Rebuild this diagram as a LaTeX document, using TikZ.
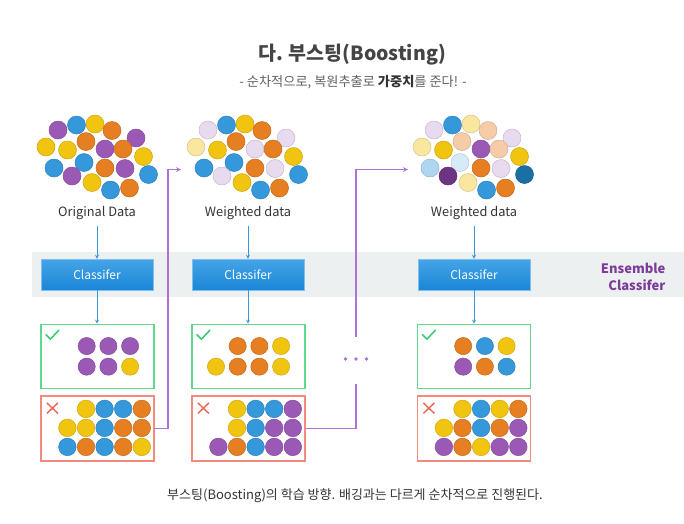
\documentclass[tikz,border=0pt]{standalone}
\usepackage{fontspec}
\setmainfont{Noto Sans CJK KR}
\usepackage{tikz}

\definecolor{cblue}{HTML}{3498DB}
\definecolor{cyellow}{HTML}{F1C40F}
\definecolor{corange}{HTML}{E67E22}
\definecolor{cpurple}{HTML}{9B59B6}
\definecolor{clav}{HTML}{E8DAEF}
\definecolor{clyel}{HTML}{F9E79F}
\definecolor{cpeach}{HTML}{F6CBA8}
\definecolor{clblue}{HTML}{AED6F1}
\definecolor{cvlblue}{HTML}{D6EAF8}
\definecolor{cdblue}{HTML}{1A6FA3}
\definecolor{cdpurple}{HTML}{6C3483}
\definecolor{cband}{HTML}{EDF0F1}
\definecolor{cgreen}{HTML}{5ED88A}
\definecolor{cred}{HTML}{F28B7C}
\definecolor{ccheck}{HTML}{3CCB78}
\definecolor{ccross}{HTML}{EC6A5A}
\definecolor{clink}{HTML}{AE72D6}
\definecolor{cens}{HTML}{7D3C98}
\definecolor{ctext}{HTML}{333333}
\definecolor{ctitle}{HTML}{444444}
\definecolor{cclftop}{HTML}{45A4E8}
\definecolor{cclfbot}{HTML}{1A86D6}

\begin{document}
\begin{tikzpicture}[x=1pt,y=-1pt,
  bead/.style={fill=#1,draw=#1!85!black,line width=0.5pt},
  clf/.style={draw=cclftop!70!white, top color=cclftop, bottom color=cclfbot,
    minimum width=112pt, minimum height=31pt, inner sep=0pt,
    text=white, font=\fontsize{12}{14}\selectfont},
  okbox/.style={draw=cgreen, line width=1.2pt, minimum width=113pt, minimum height=64.5pt, inner sep=0pt},
  badbox/.style={draw=cred, line width=1.2pt, minimum width=113pt, minimum height=65pt, inner sep=0pt},
  datalabel/.style={text=ctext, inner sep=0pt, font=\fontsize{12.8}{15}\selectfont},
  flow/.style={draw=cblue, line width=0.8pt, ->, >=stealth},
  back/.style={draw=clink, line width=1.2pt, >=stealth}]
\useasboundingbox (0,0) rectangle (684,523);

% title
\node[text=ctitle, font=\fontsize{19.5}{22}\selectfont\bfseries] (title) at (352,55) {다. 부스팅(Boosting)};
\node[text=ctitle!85!white, font=\fontsize{13.2}{15}\selectfont] (subtitle) at (353,82)
  {- 순차적으로, 복원추출로 \textbf{\color{ctext}가중치}를 준다! -};

% classifier band
\fill[cband] (32,252) rectangle (684,297);
\node[text=cens, align=right, anchor=east, font=\fontsize{13}{17}\selectfont\bfseries] (ens) at (669,276.5) {Ensemble\\Classifer};

% data clouds
\foreach \x/\y/\c in {58/130/cpurple, 76.5/125/cblue, 95/124/cyellow, 112/130.5/corange, 136/138/cpurple,
    46/147/cyellow, 67.5/150/cyellow, 86/141.5/corange, 105/149/cpurple, 123/149/corange, 143.5/156.5/cyellow,
    54/168/cblue, 84/162.5/cblue, 105/168/corange, 125/168.5/cpurple, 148.5/174.5/cblue,
    72/176/cpurple, 92/182.5/cyellow, 110.5/190/cblue, 129.5/188/corange}
  \fill[bead=\c] (\x,\y) circle (9);

\begin{scope}[shift={(150,0)}]
\foreach \x/\y/\c in {58/130/clav, 76.5/125/cblue, 95/124/cyellow, 112/130.5/corange, 136/138/clav,
    46/147/clyel, 67.5/150/cyellow, 86/141.5/corange, 105/149/clav, 123/149/corange, 143.5/156.5/cyellow,
    54/168/cblue, 84/162.5/cblue, 105/168/corange, 125/168.5/clav, 148.5/174.5/cblue,
    72/176/clav, 92/182.5/cyellow, 110.5/190/cblue, 129.5/188/corange}
  \fill[bead=\c] (\x,\y) circle (9);
\end{scope}

\begin{scope}[shift={(376,0)}]
\foreach \x/\y/\c in {58/130/clav, 76.5/125/cblue, 95/124/clyel, 112/130.5/cpeach, 136/138/clav,
    46/147/clyel, 67.5/150/cyellow, 86/141.5/cpeach, 105/149/cpurple, 123/149/cpeach, 143.5/156.5/cyellow,
    54/168/clblue, 84/162.5/cvlblue, 105/168/corange, 125/168.5/clav, 148.5/174.5/cdblue,
    72/176/cdpurple, 92/182.5/clyel, 110.5/190/cblue, 129.5/188/corange}
  \fill[bead=\c] (\x,\y) circle (9);
\end{scope}

\node[datalabel] (d1) at (97,213) {Original Data};
\node[datalabel] (d2) at (248,213) {Weighted data};
\node[datalabel] (d3) at (474,213) {Weighted data};

% classifiers
\node[clf] (c1) at (97,274.5) {Classifer};
\node[clf] (c2) at (248,274.5) {Classifer};
\node[clf] (c3) at (474,274.5) {Classifer};

% results
\node[okbox] (g1) at (97.5,356.5) {};
\node[okbox] (g2) at (248.5,356.5) {};
\node[okbox] (g3) at (474,356.5) {};
\node[badbox] (r1) at (97.5,428.5) {};
\node[badbox] (r2) at (248.5,428.5) {};
\node[badbox] (r3) at (474,428.5) {};

\foreach \g in {g1,g2,g3}
  \draw[ccheck, line width=1.6pt, line cap=round, line join=round, shift={(\g.north west)}]
    (5.5,11) -- (10,15.5) -- (18.5,6.5);
\foreach \r in {r1,r2,r3}
  \draw[ccross, line width=1.5pt, shift={(\r.north west)}]
    (6.5,7.5) -- (17.5,18) (6.5,18) -- (17.5,7.5);

\begin{scope}[shift={(g1.north west)}]
\foreach \i/\j/\c in {1/0/cpurple, 2/0/cpurple, 3/0/cpurple, 1/1/cpurple, 2/1/cpurple, 3/1/cyellow}
  \fill[bead=\c] ({24.6+21.7*\i},{22.4+20.6*\j}) circle (8.6);
\end{scope}
\begin{scope}[shift={(g2.north west)}]
\foreach \i/\j/\c in {1/0/corange, 2/0/corange, 3/0/cyellow, 0/1/cyellow, 1/1/corange, 2/1/corange, 3/1/cyellow}
  \fill[bead=\c] ({24.6+21.7*\i},{22.4+20.6*\j}) circle (8.6);
\end{scope}
\begin{scope}[shift={(g3.north west)}]
\foreach \i/\j/\c in {1/0/corange, 2/0/cblue, 3/0/cyellow, 1/1/cpurple, 2/1/corange, 3/1/cblue}
  \fill[bead=\c] ({24.6+21.7*\i},{22.4+20.6*\j}) circle (8.6);
\end{scope}

\begin{scope}[shift={(r1.north west)}]
\foreach \i/\j/\c in {1/0/cyellow, 2/0/cblue, 3/0/cblue, 4/0/corange,
    0/1/cyellow, 1/1/cyellow, 2/1/cblue, 3/1/corange, 4/1/corange,
    0/2/cblue, 1/2/corange, 2/2/cblue, 3/2/corange, 4/2/cyellow}
  \fill[bead=\c] ({27+18.6*\i},{13.5+19*\j}) circle (8.8);
\end{scope}
\begin{scope}[shift={(r2.north west)}]
\foreach \i/\j/\c in {1/0/cyellow, 2/0/cblue, 3/0/cblue, 4/0/cpurple,
    1/1/cyellow, 2/1/cblue, 3/1/cpurple, 4/1/cpurple,
    0/2/cpurple, 1/2/corange, 2/2/cblue, 3/2/cpurple, 4/2/cpurple}
  \fill[bead=\c] ({27+18.6*\i},{13.5+19*\j}) circle (8.8);
\end{scope}
\begin{scope}[shift={(r3.north west)}]
\foreach \i/\j/\c in {1/0/cyellow, 2/0/cblue, 3/0/cyellow, 4/0/corange,
    0/1/cyellow, 1/1/corange, 2/1/cblue, 3/1/corange, 4/1/cpurple,
    0/2/cpurple, 1/2/corange, 2/2/cyellow, 3/2/cpurple, 4/2/cpurple}
  \fill[bead=\c] ({27+18.6*\i},{13.5+19*\j}) circle (8.8);
\end{scope}

% blue flow
\draw[flow, shorten <=6pt] (d1.south) -- (c1.north);
\draw[flow, shorten <=6pt] (d2.south) -- (c2.north);
\draw[flow, shorten <=6pt] (d3.south) -- (c3.north);
\draw[flow] (c1) -- (g1.north -| c1);
\draw[flow] (c2) -- (g2.north -| c2);
\draw[flow] (c3) -- (g3.north -| c3);

% purple feedback
\coordinate (in2) at (181,169.5);
\coordinate (in3) at (408,169.5);
\coordinate (gapbot) at (356,383.5);
\coordinate (gaptop) at (356,337);
\draw[back, ->] (r1.east) -| (168,300) |- (in2);
\draw[back] (r2.east) -| (gapbot);
\draw[back, ->] (gaptop) |- (in3);
\foreach \x in {345.5,356,366.5}
  \fill[clink] (\x,359) circle (1.8);

% caption
\node[text=ctext, font=\fontsize{13}{15}\selectfont] (caption) at (355,496)
  {부스팅(Boosting)의 학습 방향. 배깅과는 다르게 순차적으로 진행된다.};
\end{tikzpicture}
\end{document}
